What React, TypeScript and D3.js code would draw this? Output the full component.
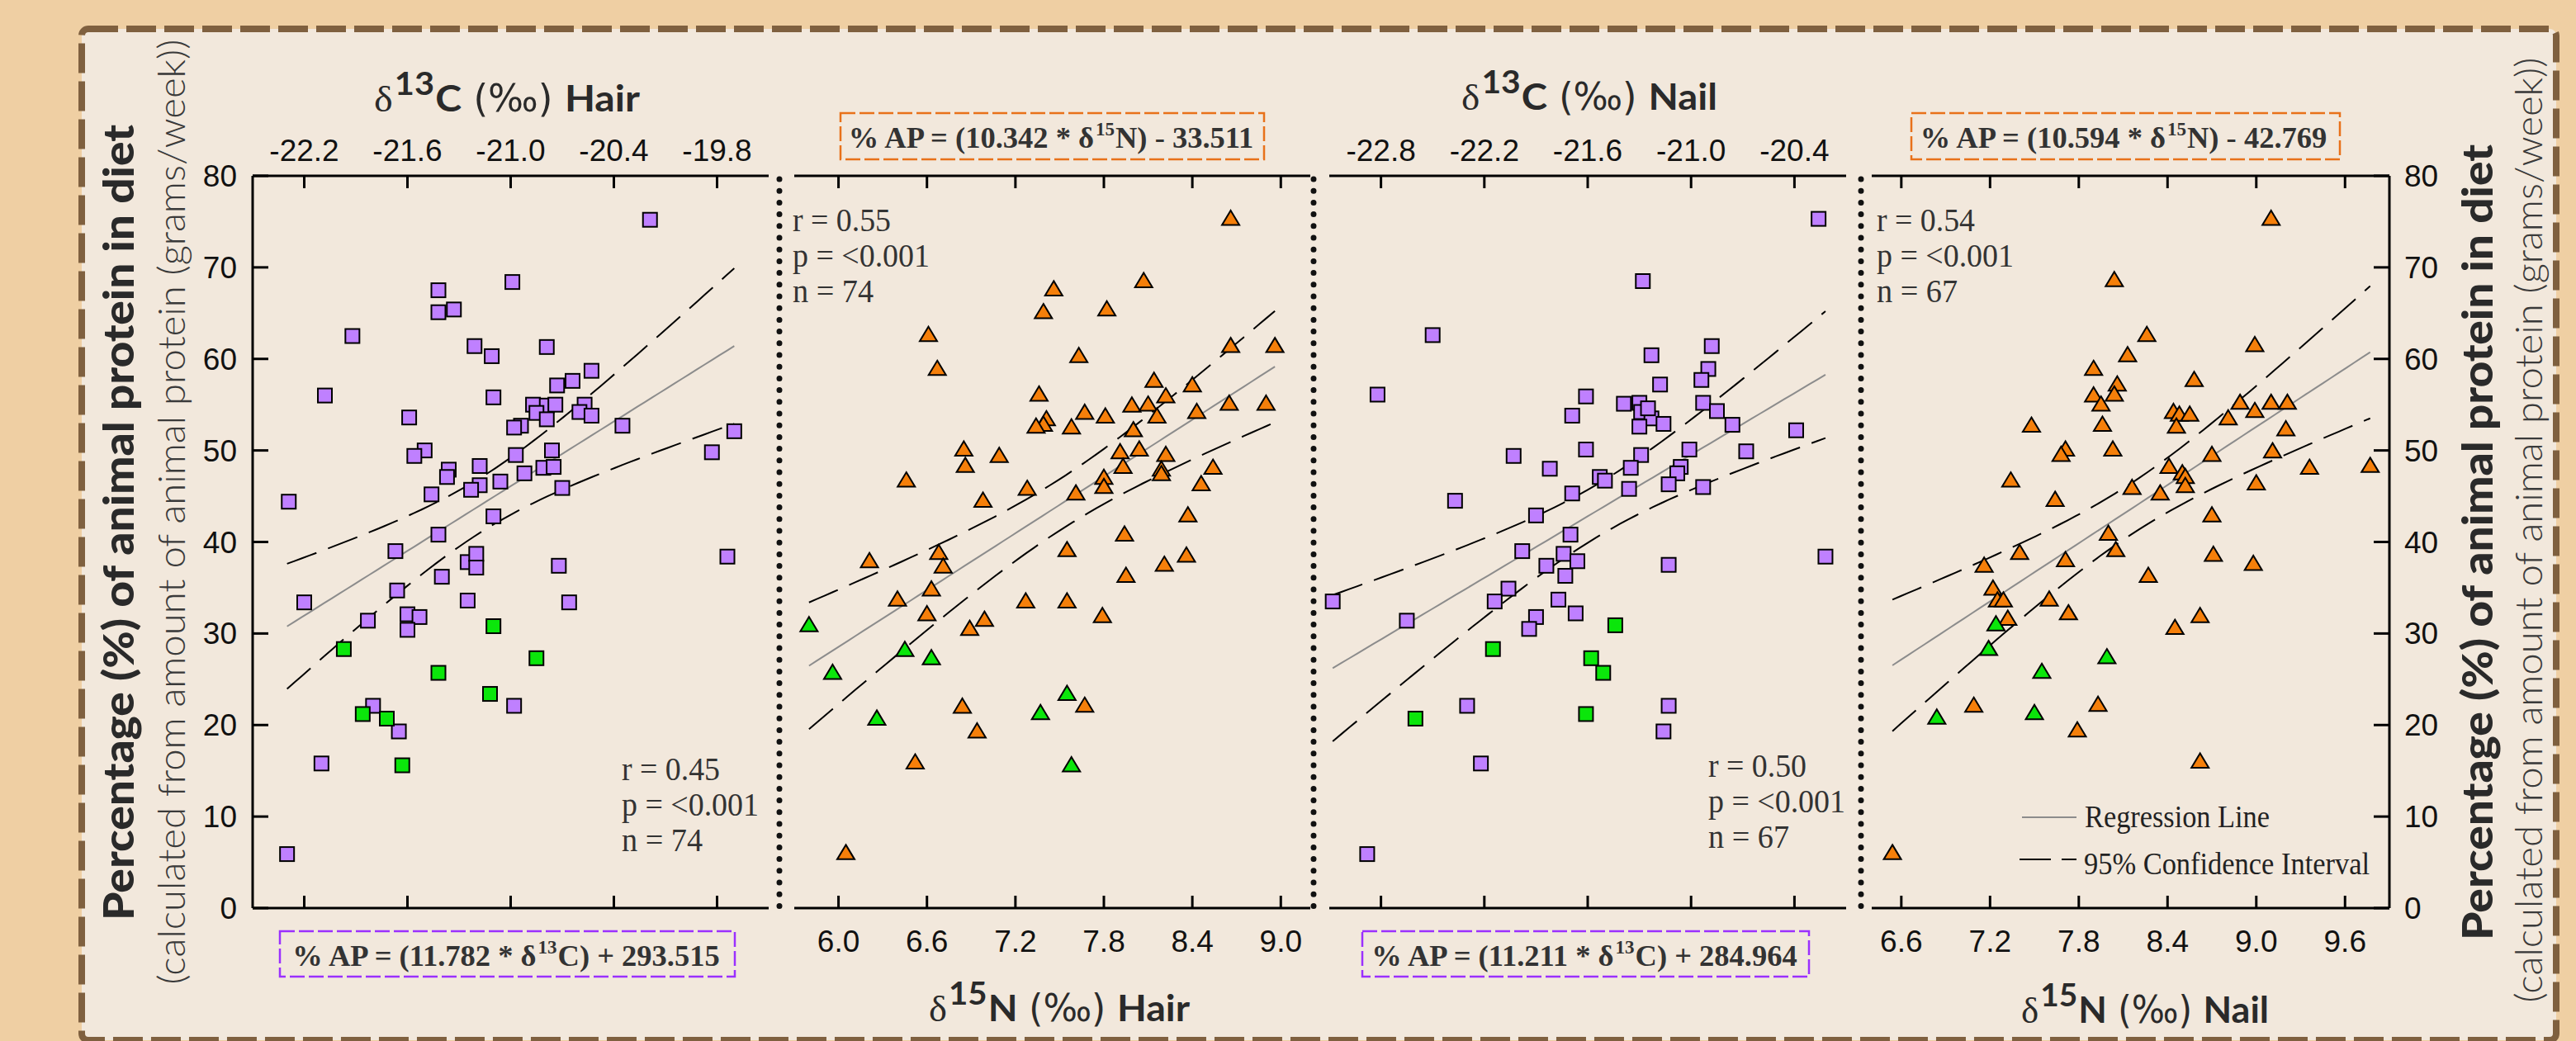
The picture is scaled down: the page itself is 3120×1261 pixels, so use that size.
import * as d3 from 'd3'

type Pt = [number, number]

// δ13C hair vs %AP
const hairCarbonPurple: Pt[] = [
  [-20.19, 75.2], [-20.99, 68.4], [-21.42, 67.5], [-21.42, 65.1], [-21.33, 65.4], [-21.92, 62.5],
  [-21.21, 61.4], [-21.11, 60.3], [-20.79, 61.3], [-20.53, 58.7], [-20.64, 57.6], [-20.73, 57.1],
  [-22.08, 56.0], [-21.10, 55.8], [-20.87, 55.0], [-20.79, 54.9], [-20.74, 55.0], [-20.57, 55.0],
  [-20.85, 54.1], [-20.60, 54.2], [-20.79, 53.4], [-20.53, 53.8], [-21.59, 53.6], [-20.35, 52.7],
  [-20.94, 52.7], [-20.98, 52.5], [-19.70, 52.1], [-19.83, 49.8], [-21.50, 50.0], [-21.56, 49.4],
  [-20.97, 49.5], [-20.76, 50.0], [-21.36, 47.9], [-21.37, 47.1], [-21.18, 48.3], [-21.18, 46.2],
  [-21.23, 45.7], [-21.06, 46.6], [-20.92, 47.5], [-20.81, 48.1], [-20.75, 48.2], [-21.46, 45.2],
  [-20.70, 45.9], [-22.29, 44.4], [-21.10, 42.8], [-21.42, 40.8], [-21.67, 39.0], [-21.25, 37.8],
  [-21.20, 38.7], [-21.20, 37.2], [-20.72, 37.4], [-19.74, 38.4], [-21.40, 36.2], [-21.66, 34.7],
  [-22.20, 33.4], [-21.25, 33.6], [-20.66, 33.4], [-21.83, 31.4], [-21.60, 32.1], [-21.53, 31.8],
  [-21.60, 30.4], [-21.80, 22.1], [-21.65, 19.3], [-20.98, 22.1], [-22.10, 15.8], [-22.30, 5.9],
]
const hairCarbonGreen: Pt[] = [
  [-21.97, 28.3], [-21.10, 30.8], [-21.42, 25.7], [-20.85, 27.3], [-21.12, 23.4], [-21.86, 21.2],
  [-21.72, 20.7], [-21.63, 15.6],
]

// δ15N hair vs %AP
const hairNitrogenOrange: Pt[] = [
  [8.66, 75.4], [8.07, 68.6], [7.46, 67.7], [7.39, 65.2], [7.82, 65.5], [6.61, 62.7], [6.67, 59.0],
  [7.63, 60.4], [8.66, 61.5], [8.96, 61.5], [8.14, 57.7], [8.40, 57.2], [7.36, 56.2], [8.22, 56.0],
  [7.99, 55.0], [8.10, 55.1], [8.65, 55.2], [8.90, 55.2], [7.67, 54.2], [7.81, 53.8], [8.16, 53.8],
  [8.43, 54.3], [7.41, 53.5], [7.39, 52.9], [7.34, 52.7], [7.58, 52.6], [8.00, 52.3], [6.85, 50.2],
  [6.86, 48.4], [7.09, 49.5], [7.91, 49.9], [8.04, 50.2], [8.22, 49.6], [7.93, 48.3], [8.19, 48.0],
  [8.19, 47.5], [8.54, 48.2], [6.46, 46.8], [7.80, 47.1], [7.80, 46.1], [7.28, 45.9], [7.61, 45.4],
  [8.46, 46.4], [6.98, 44.6], [8.37, 43.0], [7.94, 40.9], [7.55, 39.2], [8.36, 38.6], [6.21, 38.0],
  [6.68, 38.9], [6.71, 37.4], [8.21, 37.6], [7.95, 36.4], [6.63, 34.9], [6.40, 33.8], [7.27, 33.6],
  [7.55, 33.6], [6.60, 32.2], [7.79, 32.0], [6.99, 31.6], [6.89, 30.6], [6.84, 22.1], [7.67, 22.2],
  [6.94, 19.4], [6.52, 16.0], [6.05, 6.1],
]
const hairNitrogenGreen: Pt[] = [
  [5.80, 31.0], [5.96, 25.8], [6.45, 28.3], [6.63, 27.4], [6.26, 20.8], [7.55, 23.5], [7.37, 21.4],
  [7.58, 15.7],
]

// δ13C nail vs %AP
const nailCarbonPurple: Pt[] = [
  [-20.26, 75.3], [-21.28, 68.5], [-22.50, 62.6], [-20.88, 61.4], [-21.23, 60.4], [-20.90, 58.9],
  [-20.94, 57.7], [-21.18, 57.2], [-22.82, 56.1], [-21.61, 55.9], [-21.69, 53.8], [-21.39, 55.1],
  [-21.30, 55.2], [-21.27, 53.9], [-21.29, 54.2], [-21.23, 53.5], [-21.30, 52.6], [-21.16, 52.9],
  [-20.93, 55.2], [-20.85, 54.3], [-20.76, 52.8], [-20.39, 52.2], [-22.03, 49.4], [-21.61, 50.1],
  [-21.82, 48.0], [-21.29, 49.5], [-21.01, 50.1], [-20.68, 49.9], [-21.35, 48.1], [-21.53, 47.1],
  [-21.50, 46.7], [-21.06, 48.2], [-21.08, 47.5], [-21.13, 46.3], [-21.36, 45.8], [-20.93, 46.0],
  [-21.69, 45.3], [-22.37, 44.5], [-21.90, 42.9], [-21.70, 40.8], [-21.98, 39.0], [-21.74, 38.7],
  [-21.66, 37.9], [-21.84, 37.4], [-21.73, 36.3], [-21.13, 37.5], [-20.22, 38.4], [-23.08, 33.5],
  [-22.06, 34.9], [-22.14, 33.5], [-21.77, 33.7], [-22.65, 31.4], [-21.90, 31.8], [-21.94, 30.5],
  [-21.67, 32.2], [-22.30, 22.1], [-21.13, 22.1], [-21.16, 19.3], [-22.22, 15.8], [-22.88, 5.9],
  [-21.25, 54.6],
]
const nailCarbonGreen: Pt[] = [
  [-21.44, 30.9], [-22.15, 28.3], [-21.58, 27.3], [-21.51, 25.7], [-22.60, 20.7], [-21.61, 21.2],
]

// δ15N nail vs %AP
const nailNitrogenOrange: Pt[] = [
  [9.10, 75.4], [8.04, 68.7], [8.26, 62.7], [8.99, 61.6], [8.13, 60.5], [7.90, 59.0], [8.06, 57.3],
  [8.58, 57.8], [8.04, 56.2], [7.90, 56.1], [7.95, 55.1], [8.89, 55.3], [9.10, 55.3], [9.21, 55.3],
  [8.99, 54.4], [8.44, 54.3], [8.48, 54.0], [8.55, 54.0], [8.81, 53.6], [7.96, 52.9], [8.46, 52.7],
  [7.48, 52.8], [9.20, 52.4], [7.71, 50.2], [7.68, 49.6], [8.03, 50.2], [9.11, 50.0], [8.70, 49.6],
  [8.41, 48.3], [8.50, 47.6], [8.52, 47.2], [8.52, 46.2], [9.36, 48.2], [9.77, 48.4], [7.34, 46.8],
  [8.16, 46.0], [8.35, 45.4], [9.00, 46.5], [7.64, 44.7], [8.70, 43.0], [8.00, 41.0], [8.05, 39.2],
  [7.40, 38.9], [7.16, 37.5], [7.71, 38.1], [8.71, 38.7], [8.98, 37.7], [8.27, 36.4], [7.22, 35.0],
  [7.25, 33.7], [7.29, 33.7], [7.60, 33.8], [7.32, 31.7], [7.73, 32.3], [8.62, 32.0], [8.45, 30.7],
  [7.09, 22.2], [7.93, 22.3], [7.79, 19.5], [8.62, 16.1], [6.54, 6.1],
]
const nailNitrogenGreen: Pt[] = [
  [7.24, 31.1], [7.19, 28.4], [7.99, 27.5], [7.55, 25.9], [6.84, 20.9], [7.50, 21.4],
]

const yTicks = [0, 10, 20, 30, 40, 50, 60, 70, 80]
const hairCTicks = [-22.2, -21.6, -21.0, -20.4, -19.8]
const hairNTicks = [6.0, 6.6, 7.2, 7.8, 8.4, 9.0]
const nailCTicks = [-22.8, -22.2, -21.6, -21.0, -20.4]
const nailNTicks = [6.6, 7.2, 7.8, 8.4, 9.0, 9.6]

const slopes = [11.782, 10.342, 11.211, 10.594]
const intercepts = [293.515, -33.511, 284.964, -42.769]
const rValues = ['0.45', '0.55', '0.50', '0.54']
const nValues = [74, 74, 67, 67]

const SERIF = '"Liberation Serif", "Times New Roman", serif'
const SANS = '"Liberation Sans", Arial, sans-serif'
const NARROW = '"Liberation Sans Narrow", "DejaVu Sans Condensed", sans-serif'
const GEO = 'Lato, "Open Sans", sans-serif'
const INK = '#2a2a2a'
const PURPLE = '#bf80ff'
const ORANGE = '#f57f0a'
const GREEN = '#0be60b'
const PURPLE_BOX = '#9b30ff'
const ORANGE_BOX = '#e8711a'

const yScale = d3.scaleLinear().domain([0, 80]).range([1100, 213])

const panels = [
  {
    main: hairCarbonPurple, green: hairCarbonGreen, shape: 'square', fill: PURPLE,
    domain: [-22.5, -19.5], range: [306, 931], ticks: hairCTicks, labelSide: 'top',
    iso: '13', el: 'C', tissue: 'Hair', k: 0,
    title: { x: 614, y: 135, len: 322 },
    eq: { x: 339, y: 1128, w: 551, h: 55, tx: 613, ty: 1170, color: PURPLE_BOX },
    stats: { x: 753, y: 945 },
  },
  {
    main: hairNitrogenOrange, green: hairNitrogenGreen, shape: 'triangle', fill: ORANGE,
    domain: [5.7, 9.2], range: [962, 1587], ticks: hairNTicks, labelSide: 'bottom',
    iso: '15', el: 'N', tissue: 'Hair', k: 1,
    title: { x: 1283, y: 1237, len: 316 },
    eq: { x: 1018, y: 137, w: 513, h: 56, tx: 1273, ty: 179, color: ORANGE_BOX },
    stats: { x: 960, y: 280 },
  },
  {
    main: nailCarbonPurple, green: nailCarbonGreen, shape: 'square', fill: PURPLE,
    domain: [-23.1, -20.1], range: [1610, 2236], ticks: nailCTicks, labelSide: 'top',
    iso: '13', el: 'C', tissue: 'Nail', k: 2,
    title: { x: 1925, y: 133, len: 310 },
    eq: { x: 1650, y: 1128, w: 541, h: 55, tx: 1919, ty: 1170, color: PURPLE_BOX },
    stats: { x: 2069, y: 941 },
  },
  {
    main: nailNitrogenOrange, green: nailNitrogenGreen, shape: 'triangle', fill: ORANGE,
    domain: [6.4, 9.9], range: [2267, 2894], ticks: nailNTicks, labelSide: 'bottom',
    iso: '15', el: 'N', tissue: 'Nail', k: 3,
    title: { x: 2598, y: 1239, len: 300 },
    eq: { x: 2315, y: 137, w: 519, h: 56, tx: 2572, ty: 179, color: ORANGE_BOX },
    stats: { x: 2273, y: 280 },
  },
]

// 95% confidence band of the mean response around the published line
function confidenceBand(points: Pt[], slope: number, intercept: number) {
  const xs = points.map(p => p[0])
  const n = xs.length
  const mean = d3.mean(xs)!
  const sxx = d3.sum(xs, v => (v - mean) ** 2)
  const sse = d3.sum(points, ([px, py]) => (py - (slope * px + intercept)) ** 2)
  const s = Math.sqrt(sse / (n - 2))
  const t = 1.99
  const [x0, x1] = d3.extent(xs) as [number, number]
  return d3.range(0, 61).map(i => {
    const xv = x0 + ((x1 - x0) * i) / 60
    const fit = slope * xv + intercept
    const half = t * s * Math.sqrt(1 / n + (xv - mean) ** 2 / sxx)
    return { xv, fit, lo: fit - half, hi: fit + half }
  })
}

const fmtX = (v: number) => d3.format('.1f')(v).replace('−', '-')

function Marker({ shape, cx, cy, fill }: { shape: string; cx: number; cy: number; fill: string }) {
  if (shape === 'square') {
    return <rect x={cx - 8.5} y={cy - 8.5} width={17} height={17} fill={fill} stroke="#000" strokeWidth={2} />
  }
  return (
    <path
      d={`M${cx},${cy - 9}L${cx + 10.5},${cy + 8.5}L${cx - 10.5},${cy + 8.5}Z`}
      fill={fill}
      stroke="#000"
      strokeWidth={2}
    />
  )
}

function Panel({ p }: { p: any }) {
  const x = d3.scaleLinear().domain(p.domain).range(p.range)
  const slope = slopes[p.k]
  const intercept = intercepts[p.k]
  const band = confidenceBand([...p.main, ...p.green], slope, intercept)
  const mk = (key: 'fit' | 'lo' | 'hi') =>
    d3.line<any>().x(d => x(d.xv)).y(d => yScale(d[key]))(band) as string
  const [r0, r1] = p.range
  const top = yScale(80)
  const bottom = yScale(0)
  const sign = intercept < 0 ? ' - ' : ' + '
  const statW = [119, 166, 98]

  return (
    <g>
      <line x1={r0} x2={r1} y1={top} y2={top} stroke="#000" strokeWidth={3} />
      <line x1={r0} x2={r1} y1={bottom} y2={bottom} stroke="#000" strokeWidth={3} />
      {p.ticks.map((t: number) => (
        <g key={t}>
          <line x1={x(t)} x2={x(t)} y1={top} y2={top + 15} stroke="#000" strokeWidth={3} />
          <line x1={x(t)} x2={x(t)} y1={bottom} y2={bottom - 15} stroke="#000" strokeWidth={3} />
          <text
            x={x(t)}
            y={p.labelSide === 'top' ? 195 : 1153}
            textAnchor="middle"
            fontFamily={SANS}
            fontSize={37}
            fill="#111"
          >
            {fmtX(t)}
          </text>
        </g>
      ))}

      <path d={mk('fit')} fill="none" stroke="#8c8c8c" strokeWidth={2} />
      <path d={mk('hi')} fill="none" stroke="#000" strokeWidth={2} strokeDasharray="38 15" />
      <path d={mk('lo')} fill="none" stroke="#000" strokeWidth={2} strokeDasharray="38 15" />

      {p.main.map((d: Pt, i: number) => (
        <Marker key={'m' + i} shape={p.shape} cx={x(d[0])} cy={yScale(d[1])} fill={p.fill} />
      ))}
      {p.green.map((d: Pt, i: number) => (
        <Marker key={'g' + i} shape={p.shape} cx={x(d[0])} cy={yScale(d[1])} fill={GREEN} />
      ))}

      <text
        x={p.title.x}
        y={p.title.y}
        textAnchor="middle"
        fontSize={44}
        fill={INK}
        textLength={p.title.len}
        lengthAdjust="spacingAndGlyphs"
      >
        <tspan fontFamily={SERIF}>δ</tspan>
        <tspan fontFamily={GEO} fontWeight={700} fontSize={38} dx={2} dy={-20}>{p.iso}</tspan>
        <tspan fontFamily={GEO} fontWeight={700} dx={1} dy={20}>{p.el}</tspan>
        <tspan fontFamily={NARROW} fontSize={46}>{' (‰) '}</tspan>
        <tspan fontFamily={GEO} fontWeight={700}>{p.tissue}</tspan>
      </text>

      <rect
        x={p.eq.x}
        y={p.eq.y}
        width={p.eq.w}
        height={p.eq.h}
        fill="none"
        stroke={p.eq.color}
        strokeWidth={2.5}
        strokeDasharray="18 5"
      />
      <text
        x={p.eq.tx}
        y={p.eq.ty}
        textAnchor="middle"
        fontFamily={SERIF}
        fontWeight={700}
        fontSize={36.5}
        fill="#333"
      >
        <tspan>{`% AP = (${slope.toFixed(3)} * δ`}</tspan>
        <tspan fontSize={23} dx={2} dy={-15}>{p.iso}</tspan>
        <tspan dx={1} dy={15}>{`${p.el})${sign}${Math.abs(intercept).toFixed(3)}`}</tspan>
      </text>

      <g fontFamily={SERIF} fontSize={39} fill="#333">
        {[`r = ${rValues[p.k]}`, 'p = <0.001', `n = ${nValues[p.k]}`].map((s, i) => (
          <text
            key={i}
            x={p.stats.x}
            y={p.stats.y + 43 * i}
            textLength={statW[i]}
            lengthAdjust="spacingAndGlyphs"
          >
            {s}
          </text>
        ))}
      </g>
    </g>
  )
}

function YTitle({ bx, lx, cyBold, cyLight }: { bx: number; lx: number; cyBold: number; cyLight: number }) {
  return (
    <g>
      <text
        transform={`translate(${bx},${cyBold}) rotate(-90)`}
        textAnchor="middle"
        fontFamily={GEO}
        fontWeight={900}
        fontSize={51}
        fill={INK}
        textLength={964}
        lengthAdjust="spacingAndGlyphs"
      >
        Percentage (%) of animal protein in diet
      </text>
      <text
        transform={`translate(${lx},${cyLight}) rotate(-90)`}
        textAnchor="middle"
        fontFamily={GEO}
        fontWeight={300}
        fontSize={46}
        fill="#3a3a3a"
        textLength={1145}
        lengthAdjust="spacingAndGlyphs"
      >
        (calculated from amount of animal protein (grams/week))
      </text>
    </g>
  )
}

export default function App() {
  const separators = [944, 1591, 2254]
  return (
    <svg width={3120} height={1261} style={{ position: 'absolute', left: 0, top: 0, display: 'block' }}>
      <rect x={0} y={0} width={3120} height={1261} fill="#efcfa3" />
      <rect
        x={99}
        y={35}
        width={2997}
        height={1225}
        rx={8}
        fill="#f2e8dc"
        stroke="#7f603f"
        strokeWidth={8}
        strokeDasharray="36 10"
      />

      {/* left y axis */}
      <line x1={306} x2={306} y1={yScale(80)} y2={yScale(0)} stroke="#000" strokeWidth={3} />
      {/* right y axis */}
      <line x1={2894} x2={2894} y1={yScale(80)} y2={yScale(0)} stroke="#000" strokeWidth={3} />
      {yTicks.map(t => (
        <g key={t}>
          <line x1={306} x2={325} y1={yScale(t)} y2={yScale(t)} stroke="#000" strokeWidth={3} />
          <line x1={2894} x2={2875} y1={yScale(t)} y2={yScale(t)} stroke="#000" strokeWidth={3} />
          <text x={287} y={yScale(t) + 13} textAnchor="end" fontFamily={SANS} fontSize={37} fill="#111">
            {t}
          </text>
          <text x={2912} y={yScale(t) + 13} textAnchor="start" fontFamily={SANS} fontSize={37} fill="#111">
            {t}
          </text>
        </g>
      ))}

      {separators.map(sx => (
        <line
          key={sx}
          x1={sx}
          x2={sx}
          y1={217}
          y2={1098}
          stroke="#111"
          strokeWidth={7}
          strokeLinecap="round"
          strokeDasharray="0 14.2"
        />
      ))}

      {panels.map((p, i) => (
        <Panel key={i} p={p} />
      ))}

      {/* legend */}
      <line x1={2449} x2={2515} y1={990} y2={990} stroke="#8c8c8c" strokeWidth={2} />
      <text x={2525} y={1002} fontFamily={SERIF} fontSize={37} fill="#222" textLength={224} lengthAdjust="spacingAndGlyphs">
        Regression Line
      </text>
      <line x1={2446} x2={2515} y1={1041} y2={1041} stroke="#000" strokeWidth={2} strokeDasharray="38 13" />
      <text x={2524} y={1059} fontFamily={SERIF} fontSize={37} fill="#222" textLength={346} lengthAdjust="spacingAndGlyphs">
        95% Confidence Interval
      </text>

      <YTitle bx={162} lx={224} cyBold={633} cyLight={620} />
      <YTitle bx={3019} lx={3079} cyBold={657} cyLight={642} />
    </svg>
  )
}
